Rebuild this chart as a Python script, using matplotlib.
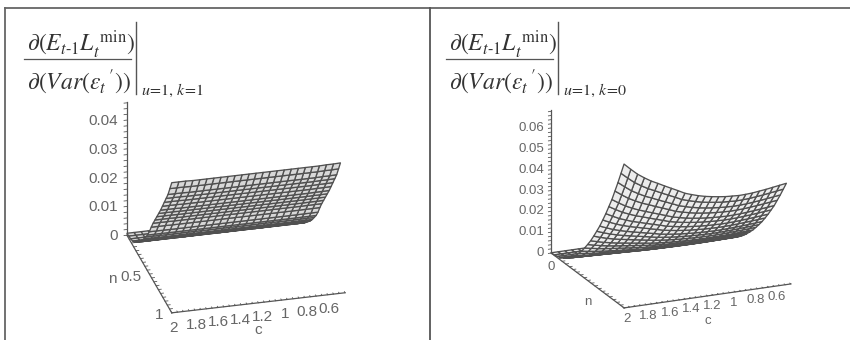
import numpy as np
import matplotlib
matplotlib.use("Agg")
import matplotlib.pyplot as plt
from matplotlib.lines import Line2D
from mpl_toolkits.mplot3d import proj3d

plt.rcParams['mathtext.fontset'] = 'stix'
plt.rcParams['font.family'] = ['Liberation Sans']

W_PX, H_PX = 850, 340

# Both surfaces were read as an edge profile along c (height at n=1)
# times a rise profile along n (fraction of that height).
# the reference has some perspective, so the mesh stops a bit short of c=0.5 on the flat axes
c_grid = np.linspace(2, 0.54, 25)
n_grid = np.linspace(0, 1, 25)

left_edge_c = [0.0452, 0.0452, 0.0452, 0.0451, 0.0451, 0.0451, 0.0451, 0.0451, 0.0451,
               0.0451, 0.0451, 0.0451, 0.0451, 0.0451, 0.0451, 0.0451, 0.0451, 0.0451,
               0.0451, 0.0451, 0.0451, 0.0451, 0.0452, 0.0452, 0.0453]
left_rise_n = [0.015, 0.018, 0.022, 0.030, 0.045, 0.070, 0.100, 0.130, 0.160, 0.195, 0.235,
               0.275, 0.325, 0.385, 0.440, 0.490, 0.540, 0.590, 0.640, 0.695, 0.750,
               0.805, 0.860, 0.930, 1.000]

right_edge_c = [0.0690, 0.0660, 0.0632, 0.0610, 0.0590, 0.0574, 0.0557, 0.0541, 0.0525,
                0.0508, 0.0497, 0.0487, 0.0479, 0.0473, 0.0468, 0.0464, 0.0462, 0.0460,
                0.0461, 0.0463, 0.0467, 0.0471, 0.0476, 0.0481, 0.0486]
right_rise_n = [0.002, 0.003, 0.008, 0.016, 0.028, 0.043, 0.063, 0.085, 0.110, 0.140, 0.172,
                0.210, 0.250, 0.292, 0.340, 0.390, 0.442, 0.500, 0.560, 0.625, 0.690,
                0.765, 0.840, 0.920, 1.000]

left_z_ticks = [0, 0.01, 0.02, 0.03, 0.04]
left_z_labels = ['0', '0.01', '0.02', '0.03', '0.04']
right_z_ticks = [0, 0.01, 0.02, 0.03, 0.04, 0.05, 0.06]
right_z_labels = ['0', '0.01', '0.02', '0.03', '0.04', '0.05', '0.06']
c_ticks = [2, 1.8, 1.6, 1.4, 1.2, 1, 0.8, 0.6]
c_labels = ['2', '1.8', '1.6', '1.4', '1.2', '1', '0.8', '0.6']


def fx(x):
    return x / W_PX


def fy(y):
    return 1 - y / H_PX


def rule(fig, x0, y0, x1, y1, color='#444444', lw=1.0):
    fig.add_artist(Line2D([fx(x0), fx(x1)], [fy(y0), fy(y1)], color=color, lw=lw))


def formula(fig, x, k_label):
    # x is the left end of the fraction bar
    ink = '#333333'
    fig.text(fx(x + 3), fy(45), r'$\partial(E_{t\text{-}1}L_t^{\ \mathrm{min}})$',
             fontsize=17, color=ink, ha='left', va='center')
    fig.text(fx(x + 3), fy(82), r"$\partial(Var(\varepsilon_t\,'))$",
             fontsize=17, color=ink, ha='left', va='center')
    rule(fig, x, 59, x + 107, 59, color='#555555', lw=0.9)
    rule(fig, x + 112, 22, x + 112, 94, color='#555555', lw=1.0)
    fig.text(fx(x + 117), fy(90), r'$u\!=\!1,\,k\!=\!%s$' % k_label,
             fontsize=11.5, color=ink, ha='left', va='center')


def surface_panel(fig, center, size_xy, size_z, elev, azim, z_top, edge_c, rise_n, face, fsize):
    # size_xy, size_z: axis lengths in pixels
    z_px = size_z / np.cos(np.radians(elev))
    norm = np.sqrt(2 * size_xy ** 2 + z_px ** 2)
    side = 1.85 * norm / 1.9057
    left = center[0] - 0.5135 * side
    bottom = center[1] + 0.5135 * side
    ax = fig.add_axes([fx(left), fy(bottom), side / W_PX, side / H_PX], projection='3d')
    ax.set_proj_type('ortho')
    ax.set_box_aspect((size_xy, size_xy, z_px))
    ax.view_init(elev=elev, azim=azim)
    ax.set_xlim(2, 0.5)
    ax.set_ylim(1, 0)
    ax.set_zlim(0, z_top)
    ax.set_axis_off()
    ax.patch.set_alpha(0)

    C, N = np.meshgrid(c_grid, n_grid)
    Z = np.outer(rise_n, edge_c)
    ax.plot_surface(C, N, Z, rstride=1, cstride=1, color=face, shade=False,
                    edgecolor='#505050', linewidth=0.95, antialiased=True)

    axis_color = '#555555'
    ax.plot([2, 2], [0, 0], [0, z_top], color=axis_color, lw=0.9)
    ax.plot([2, 2], [0, 1], [0, 0], color=axis_color, lw=0.9)
    ax.plot([2, 0.5], [1, 1], [0, 0], color=axis_color, lw=0.9)
    for z in np.arange(0, z_top, 0.002):
        ax.plot([2, 2.025], [0, 0], [z, z], color=axis_color, lw=0.6)
    for c in np.arange(0.5, 2.01, 0.05):
        ax.plot([c, c], [1, 0.985], [0, 0], color=axis_color, lw=0.6)
    for n in np.arange(0, 1.01, 0.05):
        ax.plot([2, 1.975], [n, n], [0, 0], color=axis_color, lw=0.6)

    def label(x, y, z, s, dx, dy, ha='center'):
        # dx, dy in pixels from the projected point, dy downwards
        px, py, _ = proj3d.proj_transform(x, y, z, ax.get_proj())
        ax.annotate(s, (px, py), xytext=(dx * 0.72, -dy * 0.72), textcoords='offset points',
                    ha=ha, va='center', fontsize=fsize, color='#666666')
    return ax, label


fig = plt.figure(figsize=(8.5, 3.4), dpi=100)

# panel frame
rule(fig, 5, 8, 850, 8, color='#666666', lw=1.3)
rule(fig, 5, 8, 5, 340, color='#666666', lw=1.3)
rule(fig, 430, 8, 430, 340, color='#555555', lw=1.3)

formula(fig, 24, '1')
formula(fig, 446, '0')

ax, label = surface_panel(fig, (236, 197.5), 179, 133, 26.6, -104.5, 0.0462,
                          left_edge_c, left_rise_n, '#d8d8d8', 11)
for z, s in zip(left_z_ticks, left_z_labels):
    label(2, 0, z, s, -9, 1, ha='right')
for c, s in zip(c_ticks, c_labels):
    label(c, 1, 0, s, 2 - (2 - c) * 4.5, 15)
label(1.25, 1, 0, 'c', 0, 27)
label(2, 0.5, 0, 'n', -37, 5)
label(2, 0.5, 0, '0.5', -18, 3)
label(2, 1, 0, '1', -13, 2)

ax, label = surface_panel(fig, (671, 197), 182, 143, 19.2, -113.6, 0.0686,
                          right_edge_c, right_rise_n, '#ececec', 9.5)
for z, s in zip(right_z_ticks, right_z_labels):
    label(2, 0, z, s, -7, 0, ha='right')
for c, s in zip(c_ticks, c_labels):
    label(c, 1, 0, s, 3 - (2 - c) * 4.3, 11)
label(1.25, 1, 0, 'c', 0, 25)
label(2, 0.5, 0, 'n', 0, 22)
label(2, 0, 0, '0', 0, 14)

fig.savefig("out.png", dpi=100)
